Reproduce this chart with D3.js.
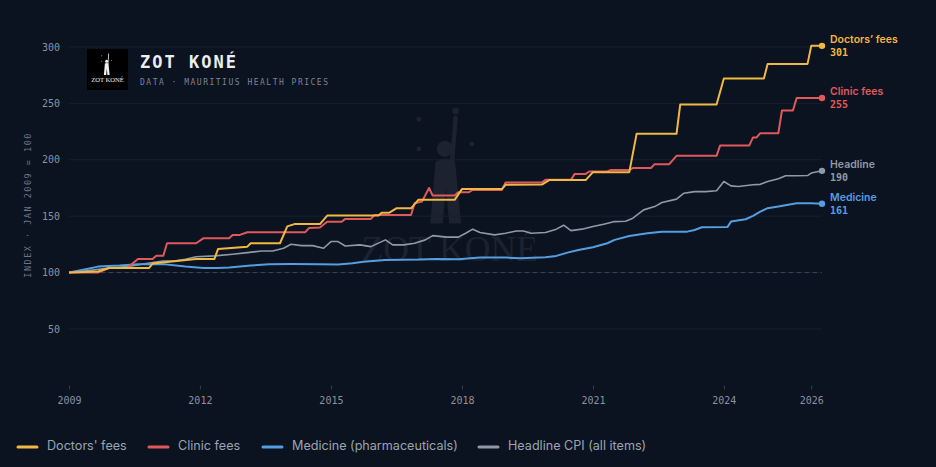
<!DOCTYPE html>
<html lang="en">
<head>
	<meta charset="UTF-8">
	<title>Zot Koné · Mauritius health prices</title>
	<script src="https://cdn.jsdelivr.net/npm/d3@7"></script>
	<style>
		html, body { margin: 0; padding: 0; background: #0b1220; }
		svg { display: block; }
	</style>
</head>
<body>
<svg id="chart" width="936" height="467"></svg>
<script>

// index, Jan 2009 = 100
const doctorsFees = [
	["2009-01",100],["2009-09",101],["2009-12",104],["2010-11",104],["2010-12",108],
	["2011-06",110],["2011-12",112],["2012-05",112],["2012-06",121],["2013-02",123],
	["2013-03",126],["2013-11",126],["2014-01",141],["2014-03",143],["2014-10",143],
	["2014-12",150.5],["2016-02",150.5],["2016-03",153],["2016-05",153],["2016-07",157],
	["2016-11",157],["2017-01",164.5],["2017-11",164.5],["2018-01",174],["2018-12",174],
	["2019-01",177.8],["2019-11",178],["2020-01",182],["2020-11",182],["2021-01",189],
	["2021-11",189],["2022-01",223],["2022-12",223],["2023-01",249],["2023-11",249],
	["2024-01",272],["2024-12",272],["2025-01",285],["2025-12",285],["2026-01",301],
	["2026-04",301]
];

const clinicFees = [
	["2009-01",100],["2009-09",100],["2009-12",104],["2010-05",104],["2010-08",112],
	["2010-12",112],["2011-01",115],["2011-03",115],["2011-04",126],["2011-12",126],
	["2012-02",130.5],["2012-09",130.5],["2012-10",133.4],["2012-12",133.4],["2013-02",135.8],
	["2014-06",135.8],["2014-07",139.5],["2014-10",140],["2014-12",145],["2015-04",145],
	["2015-05",147.6],["2015-12",147.6],["2016-01",151],["2016-11",151],["2016-12",161.5],
	["2017-02",163],["2017-04",175],["2017-05",168.3],["2017-11",168.3],["2017-12",171.3],
	["2018-03",171.3],["2018-04",173.3],["2018-12",173.3],["2019-01",179.8],["2019-11",179.8],
	["2019-12",182.2],["2020-07",182.2],["2020-08",187.5],["2020-11",187.5],["2020-12",189.6],
	["2021-05",189.6],["2021-06",191],["2021-11",191],["2021-12",192.6],["2022-05",192.6],
	["2022-06",196.1],["2022-10",196.1],["2022-12",203.5],["2023-11",203.5],["2023-12",212.7],
	["2024-08",212.7],["2024-09",219.8],["2024-10",219.8],["2024-11",223.6],["2025-04",223.6],
	["2025-05",243.7],["2025-08",243.7],["2025-09",254.7],["2026-04",254.7]
];

const medicine = [
	["2009-01",100],["2009-06",103.2],["2009-09",105.3],["2010-03",106.2],["2010-08",107.4],
	["2011-03",107.5],["2011-09",105.3],["2012-02",104],["2012-06",104],["2012-09",104.5],
	["2012-12",105.3],["2013-03",106.2],["2013-08",107.4],["2014-02",107.6],["2014-10",107.5],
	["2015-03",107.2],["2015-07",108.2],["2015-10",109.7],["2016-04",111.2],["2017-01",111.5],
	["2017-06",112.1],["2017-12",111.8],["2018-06",113.3],["2019-01",113.3],["2019-05",112.8],
	["2019-12",113.5],["2020-03",114.8],["2020-06",117.7],["2020-09",120.1],["2021-01",122.5],
	["2021-05",126],["2021-07",129],["2021-11",132.5],["2022-04",134.9],["2022-08",136.3],
	["2023-03",136.3],["2023-05",137.8],["2023-07",140.2],["2024-02",140.5],["2024-03",145.2],
	["2024-07",147.3],["2024-09",150.3],["2024-11",154.1],["2025-01",157.1],["2025-04",158.5],
	["2025-09",161.5],["2026-01",161.5],["2026-04",161]
];

const headline = [
	["2009-01",100],["2009-07",102],["2009-12",104],["2010-05",105.3],["2010-09",107.4],
	["2010-12",108.8],["2011-03",110.3],["2011-06",110.3],["2011-09",111.8],["2011-12",114.1],
	["2012-05",114.8],["2012-10",116.3],["2013-02",117.7],["2013-06",119.2],["2013-09",119.2],
	["2013-12",121.6],["2014-02",125.1],["2014-05",123.9],["2014-08",123.9],["2014-11",121.6],
	["2015-01",127.5],["2015-03",127.5],["2015-05",123.6],["2015-09",124.6],["2015-12",123],
	["2016-04",129],["2016-06",124.6],["2016-09",124.6],["2016-12",126],["2017-03",129],
	["2017-05",132.8],["2017-09",131.4],["2017-12",131.4],["2018-02",134.9],["2018-04",138.5],
	["2018-06",135.5],["2018-10",133.4],["2019-01",134.9],["2019-04",136.9],["2019-06",136.9],
	["2019-08",134.9],["2019-12",135.5],["2020-03",138.5],["2020-05",142],["2020-07",137.2],
	["2020-10",138.5],["2021-01",140.8],["2021-04",142.9],["2021-07",145.2],["2021-10",145.5],
	["2021-12",148.2],["2022-03",155.6],["2022-06",158.5],["2022-08",162.1],["2022-12",165.1],
	["2023-02",170.4],["2023-05",171.8],["2023-08",171.8],["2023-11",172.6],["2024-01",180.7],
	["2024-03",176.9],["2024-05",176.3],["2024-09",177.8],["2024-11",178.2],["2025-01",180.7],
	["2025-04",183.1],["2025-06",185.8],["2025-09",185.8],["2025-12",186],["2026-01",188.2],
	["2026-04",190.2]
];

const seriesNames = ["Doctors' fees", "Clinic fees", "Medicine (pharmaceuticals)", "Headline CPI (all items)"];
const endNames = ["Doctors’ fees", "Clinic fees", "Medicine", "Headline"];
const yTicks = [50, 100, 150, 200, 250, 300];
const xTickYears = [2009, 2012, 2015, 2018, 2021, 2024, 2026];

const colors = ["#f0b942", "#e05a5c", "#559ee0", "#8f9aa9"];
const MONO = "'DejaVu Sans Mono', 'Liberation Mono', monospace";
const SANS = "Inter, 'Noto Sans', sans-serif";

const parseMonth = d3.timeParse("%Y-%m");

const series = [doctorsFees, clinicFees, medicine, headline].map((vals, i) => ({
	name: seriesNames[i],
	endName: endNames[i],
	color: colors[i],
	values: vals.map(([m, v]) => ({ date: parseMonth(m), value: v }))
}));

const svg = d3.select('#chart');

const x = d3.scaleTime()
	.domain([new Date(2009, 0, 1), new Date(2026, 3, 1)])
	.range([69, 822]);
const y = d3.scaleLinear()
	.domain([0, 320])
	.range([385.4, 24.4]);

// watermark + logo glyph, drawn in a 41x41 box
function drawMark(g, ink){
	g.append('path')
		.attr('d', 'M17.9,14.6 Q19.7,13.4 21.5,14.6 L22.6,26 L20.4,26 L19.8,19.5 L19.2,26 L16.9,26 Z')
		.attr('fill', ink);
	g.append('circle').attr('cx', 19.6).attr('cy', 12.2).attr('r', 1.5).attr('fill', ink);
	g.append('line')
		.attr('x1', 20.9).attr('y1', 15).attr('x2', 21.6).attr('y2', 6.4)
		.attr('stroke', ink).attr('stroke-width', 0.8).attr('stroke-linecap', 'round');
	[[21.6,5.2,0.6],[14.8,6.7,0.45],[14.8,12.2,0.45],[24.6,11.3,0.45]].forEach(([cx, cy, r]) => {
		g.append('circle').attr('cx', cx).attr('cy', cy).attr('r', r).attr('fill', ink);
	});
	g.append('text')
		.attr('x', 20.5).attr('y', 33)
		.attr('text-anchor', 'middle')
		.attr('font-family', "'Liberation Serif', 'DejaVu Serif', serif")
		.attr('font-size', 6.6)
		.attr('fill', ink)
		.text('ZOT KONÉ');
}

const wm = svg.append('g')
	.attr('transform', 'translate(339,83) scale(5.4)')
	.attr('opacity', 0.065);
drawMark(wm, '#ffffff');

// grid
svg.append('g')
	.selectAll('line')
	.data(yTicks)
	.join('line')
	.attr('x1', x.range()[0]).attr('x2', x.range()[1])
	.attr('y1', d => y(d)).attr('y2', d => y(d))
	.attr('stroke', '#172231')
	.attr('stroke-width', 1);

svg.append('line')
	.attr('x1', x.range()[0]).attr('x2', x.range()[1])
	.attr('y1', y(100)).attr('y2', y(100))
	.attr('stroke', '#3b4757')
	.attr('stroke-width', 1)
	.attr('stroke-dasharray', '4,4');

// axes
const yAxis = svg.append('g')
	.attr('transform', `translate(${x.range()[0]},0)`)
	.call(d3.axisLeft(y).tickValues(yTicks).tickSize(0).tickPadding(9));
yAxis.select('.domain').remove();
yAxis.selectAll('text')
	.attr('font-family', MONO).attr('font-size', 10).attr('fill', '#8a929f');

const xAxis = svg.append('g')
	.attr('transform', 'translate(0,385.5)')
	.call(d3.axisBottom(x)
		.tickValues(xTickYears.map(yr => new Date(yr, 0, 1)))
		.tickFormat(d3.timeFormat('%Y'))
		.tickSize(4)
		.tickPadding(7));
xAxis.select('.domain').remove();
xAxis.selectAll('line').attr('stroke', '#344052');
xAxis.selectAll('text')
	.attr('font-family', MONO).attr('font-size', 10).attr('fill', '#8a929f');

svg.append('text')
	.attr('transform', `translate(31,${y(160)}) rotate(-90)`)
	.attr('text-anchor', 'middle')
	.attr('font-family', MONO)
	.attr('font-size', 8.5)
	.attr('letter-spacing', 1.5)
	.attr('fill', '#6c7584')
	.text('INDEX · JAN 2009 = 100');

// lines, back to front
const line = d3.line()
	.x(d => x(d.date))
	.y(d => y(d.value));

const drawOrder = [3, 2, 1, 0];
svg.append('g')
	.selectAll('path')
	.data(drawOrder.map(i => series[i]))
	.join('path')
	.attr('d', d => line(d.values))
	.attr('fill', 'none')
	.attr('stroke', d => d.color)
	.attr('stroke-width', d => d.name.startsWith('Headline') ? 1.6 : 2)
	.attr('stroke-linejoin', 'round');

// end dots and labels
const ends = svg.append('g')
	.selectAll('g')
	.data(series)
	.join('g')
	.attr('transform', d => {
		const last = d.values[d.values.length - 1];
		return `translate(${x(last.date)},${y(last.value)})`;
	});

ends.append('circle').attr('r', 3.2).attr('fill', d => d.color);
ends.append('text')
	.attr('x', 8).attr('y', -6)
	.attr('dominant-baseline', 'middle')
	.attr('font-family', SANS).attr('font-size', 10.5).attr('font-weight', 600)
	.attr('fill', d => d.color)
	.text(d => d.endName);
ends.append('text')
	.attr('x', 8).attr('y', 7)
	.attr('dominant-baseline', 'middle')
	.attr('font-family', MONO).attr('font-size', 10).attr('font-weight', 700)
	.attr('fill', d => d.color)
	.text(d => Math.round(d.values[d.values.length - 1].value));

// header
const logo = svg.append('g').attr('transform', 'translate(87,49)');
logo.append('rect').attr('width', 41).attr('height', 41).attr('fill', '#000');
drawMark(logo, '#f2f2f2');

svg.append('text')
	.attr('x', 140).attr('y', 68)
	.attr('font-family', MONO).attr('font-size', 17).attr('font-weight', 700)
	.attr('letter-spacing', 2)
	.attr('fill', '#eceef1')
	.text('ZOT KONÉ');
svg.append('text')
	.attr('x', 140).attr('y', 85)
	.attr('font-family', MONO).attr('font-size', 8).attr('letter-spacing', 1.5)
	.attr('fill', '#7c8696')
	.text('DATA · MAURITIUS HEALTH PRICES');

// legend
const legendX = [17, 148, 262, 478];
const legend = svg.append('g')
	.selectAll('g')
	.data(series)
	.join('g')
	.attr('transform', (d, i) => `translate(${legendX[i]},447)`);
legend.append('line')
	.attr('x1', 1).attr('x2', 20)
	.attr('stroke', d => d.color)
	.attr('stroke-width', 3)
	.attr('stroke-linecap', 'round');
legend.append('text')
	.attr('x', 30)
	.attr('dominant-baseline', 'middle')
	.attr('font-family', SANS).attr('font-size', 12.6)
	.attr('fill', '#9ba4b1')
	.text(d => d.name);

</script>
</body>
</html>
